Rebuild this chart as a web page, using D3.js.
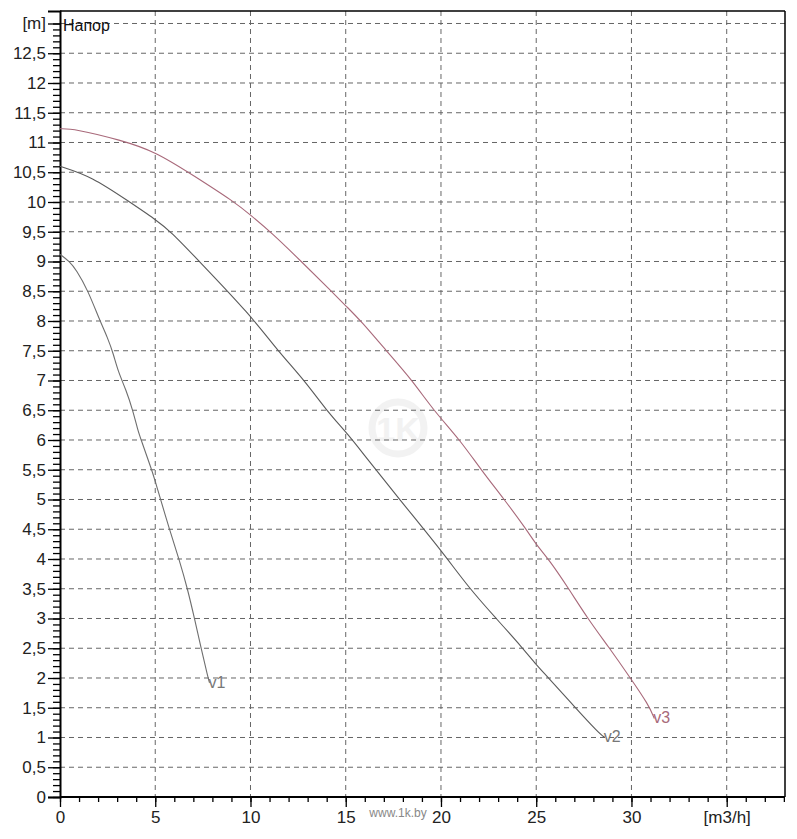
<!DOCTYPE html>
<html><head><meta charset="utf-8">
<script src="https://cdn.jsdelivr.net/npm/d3@7"></script>
<style>
html,body{margin:0;padding:0;background:#fff;}
svg{display:block;font-family:"Liberation Sans",Arial,sans-serif;}
</style></head>
<body>
<svg id="chart" width="797" height="839"></svg>
<script>
// ---- data ----
const v1 = [[0,9.12],[0.5,9.0],[0.85,8.86],[1.46,8.52],[2.07,8.02],[2.5,7.72],[2.8,7.45],[3.05,7.15],[3.47,6.84],[3.82,6.5],[4.08,6.17],[4.26,6.0],[4.87,5.45],[5.05,5.25],[5.75,4.49],[6.27,3.98],[6.71,3.48],[7.06,3.0],[7.41,2.5],[7.76,2.02],[7.85,1.92]];
const v2 = [[0,10.6],[1.65,10.43],[3.65,10.0],[5.0,9.71],[5.83,9.5],[7.23,9.03],[10,8.1],[11.4,7.51],[12.84,7.0],[13.98,6.5],[15.05,6.12],[15.77,5.83],[17.85,4.99],[20.0,4.15],[21.5,3.5],[22.9,3.0],[24.3,2.5],[25.0,2.22],[25.6,2.02],[27.0,1.52],[28.3,1.07],[28.6,1.0]];
const v3 = [[0,11.23],[0.75,11.23],[3.2,11.04],[5,10.85],[7.08,10.43],[9.16,10.0],[10,9.78],[11.05,9.5],[12.67,9.0],[14.25,8.5],[15.05,8.24],[15.8,8.0],[17.1,7.51],[18.5,7.0],[19.6,6.5],[21.0,6.0],[22.1,5.5],[23.35,4.99],[24.5,4.49],[25.0,4.24],[25.7,3.98],[26.75,3.48],[27.7,3.0],[28.85,2.5],[29.9,2.02],[30.9,1.55],[31.2,1.32]];
const seriesNames = ["v1","v2","v3"];
const xTicks = [0,5,10,15,20,25,30];
const xUnitLabel = "[m3/h]";
const yTicks = [0,0.5,1,1.5,2,2.5,3,3.5,4,4.5,5,5.5,6,6.5,7,7.5,8,8.5,9,9.5,10,10.5,11,11.5,12,12.5];
const yUnitLabel = "[m]";
const title = "Напор";

// ---- layout ----
const svg = d3.select("#chart");
const L = 60, R = 785, T = 11, B = 797;
const x = d3.scaleLinear().domain([0, 38.06]).range([L, R]);
const y = d3.scaleLinear().domain([0, 13.21]).range([B, T]);
const fmt = v => String(v).replace(".", ",");
const FONT = "Liberation Sans, Arial, sans-serif";

// watermark
const wm = svg.append("g").attr("opacity", 0.5);
wm.append("circle").attr("cx", 398).attr("cy", 428).attr("r", 26)
  .attr("fill", "none").attr("stroke", "#e6e6e6").attr("stroke-width", 7);
wm.append("text").attr("x", 398).attr("y", 441).attr("text-anchor", "middle")
  .attr("font-size", 34).attr("font-weight", "bold").attr("fill", "#e6e6e6").text("1K");

// grid
const gridX = d3.range(5, 36, 5);
const gridY = d3.range(0.5, 13.01, 0.5);
svg.append("g").selectAll("line").data(gridX).join("line")
  .attr("x1", d => x(d)).attr("x2", d => x(d)).attr("y1", T).attr("y2", B)
  .attr("stroke", "#666").attr("stroke-width", 1).attr("stroke-dasharray", "5,4");
svg.append("g").selectAll("line").data(gridY).join("line")
  .attr("x1", L).attr("x2", R).attr("y1", d => y(d)).attr("y2", d => y(d))
  .attr("stroke", "#666").attr("stroke-width", 1).attr("stroke-dasharray", "5,4");

// frame
svg.append("line").attr("x1", L).attr("x2", R).attr("y1", T).attr("y2", T).attr("stroke", "#000").attr("stroke-width", 1.5);
svg.append("line").attr("x1", R).attr("x2", R).attr("y1", T).attr("y2", B).attr("stroke", "#000").attr("stroke-width", 1.5);

// y axis (minor + major)
const yAxisMinor = d3.axisLeft(y).tickValues(d3.range(0, 13.05, 0.1)).tickSize(7).tickFormat("");
const gyMinor = svg.append("g").attr("transform", `translate(${L},0)`).call(yAxisMinor);
gyMinor.select(".domain").remove();
gyMinor.selectAll("line").attr("stroke", "#000").attr("stroke-width", 1.3);
const yAxis = d3.axisLeft(y).tickValues(yTicks.concat([13])).tickSize(12).tickPadding(2)
  .tickFormat(d => d === 13 ? yUnitLabel : fmt(d));
const gy = svg.append("g").attr("transform", `translate(${L},0)`).call(yAxis);
gy.select(".domain").attr("stroke", "#000").attr("stroke-width", 2);
gy.selectAll("line").attr("stroke", "#000").attr("stroke-width", 1.3);
gy.selectAll("text").attr("font-size", 17).attr("fill", "#222").attr("font-family", FONT);

// x axis
const xAxisMinor = d3.axisBottom(x).tickValues(d3.range(0, 38.01, 1)).tickSize(5).tickFormat("");
const gxMinor = svg.append("g").attr("transform", `translate(0,${B})`).call(xAxisMinor);
gxMinor.select(".domain").remove();
gxMinor.selectAll("line").attr("stroke", "#000").attr("stroke-width", 1.3);
const xAxis = d3.axisBottom(x).tickValues(xTicks.concat([35])).tickSize(10).tickPadding(4)
  .tickFormat(d => d === 35 ? xUnitLabel : fmt(d));
const gx = svg.append("g").attr("transform", `translate(0,${B})`).call(xAxis);
gx.select(".domain").attr("stroke", "#000").attr("stroke-width", 2).attr("d", `M${L},0H${R}`);
gx.selectAll("line").attr("stroke", "#000").attr("stroke-width", 1.3);
gx.selectAll("text").attr("font-size", 17).attr("fill", "#222").attr("font-family", FONT);

// title
svg.append("text").attr("x", 63).attr("y", 31).attr("font-size", 16).attr("fill", "#111").text(title);

// curves
const colors = ["#6e6e6e", "#5a5a5a", "#a8697a"];
const data = [v1, v2, v3];
const line = d3.line().x(d => x(d[0])).y(d => y(d[1])).curve(d3.curveBasis);
data.forEach((s, i) => {
  svg.append("path").datum(s).attr("d", line).attr("fill", "none")
    .attr("stroke", colors[i]).attr("stroke-width", 1.1);
  const e = s[s.length - 1];
  svg.append("text").attr("x", x(e[0]) - 1).attr("y", y(e[1]) + 5)
    .attr("font-size", 16).attr("fill", i === 2 ? "#a8697a" : "#777").text(seriesNames[i]);
});

// site watermark text
svg.append("text").attr("x", 398).attr("y", 817).attr("text-anchor", "middle")
  .attr("font-size", 12).attr("fill", "#888").text("www.1k.by");
</script>
</body></html>
